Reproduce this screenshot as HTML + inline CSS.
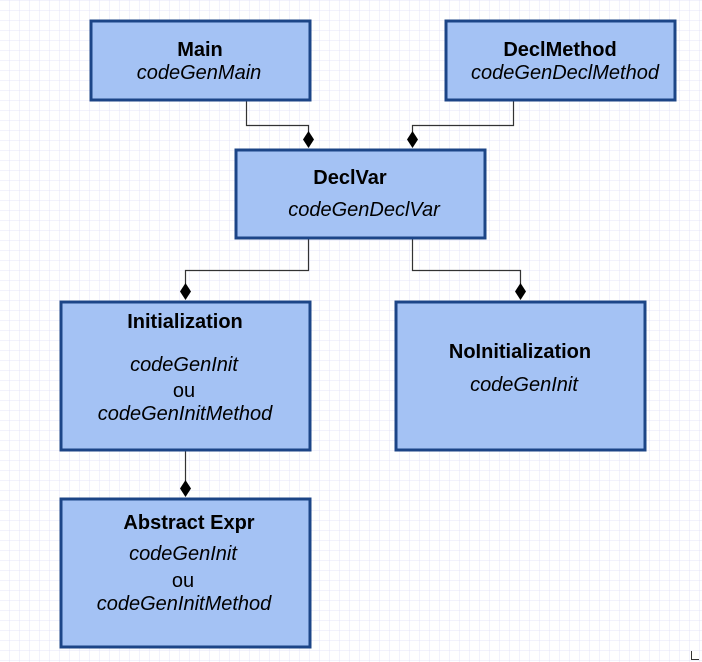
<!DOCTYPE html>
<html><head><style>
html,body{margin:0;padding:0;background:#fff;}
svg{display:block;font-family:"Liberation Sans",sans-serif;}
</style></head><body>
<svg width="702" height="662" xmlns="http://www.w3.org/2000/svg">
<defs>
<pattern id="g" width="10" height="10" patternUnits="userSpaceOnUse" x="0" y="1">
<path d="M10 0V10M0 10H10" stroke="#e4e4f8" stroke-width="1" fill="none"/>
</pattern>
</defs>
<rect width="702" height="662" fill="url(#g)"/>
<g fill="none" stroke="#333" stroke-width="1.2">
<path d="M246.5 101V125.5H308.5V132"/>
<path d="M513.5 101V125.5H412.5V132"/>
<path d="M308.5 239V270.5H185.5V284"/>
<path d="M412.5 239V270.5H520.5V284"/>
<path d="M185.5 451V481"/>
</g>
<g fill="#000">
<path d="M308.5 131L314 139.5L308.5 148L303 139.5Z"/>
<path d="M412.5 131L418 139.5L412.5 148L407 139.5Z"/>
<path d="M185.5 283L191 291.5L185.5 300L180 291.5Z"/>
<path d="M520.5 283L526 291.5L520.5 300L515 291.5Z"/>
<path d="M185.5 480L191 488.5L185.5 497L180 488.5Z"/>
</g>
<g fill="#a4c2f4" stroke="#1c4587" stroke-width="3">
<rect x="91" y="21" width="219" height="79"/>
<rect x="446" y="21" width="229" height="79"/>
<rect x="236" y="150" width="249" height="88"/>
<rect x="61" y="302" width="249" height="148"/>
<rect x="396" y="302" width="249" height="148"/>
<rect x="61" y="499" width="249" height="148"/>
</g>
<g font-size="20" text-anchor="middle" fill="#000">
<text x="200" y="56" font-weight="bold">Main</text>
<text x="199" y="79" font-style="italic">codeGenMain</text>
<text x="560" y="56" font-weight="bold">DeclMethod</text>
<text x="565" y="79" font-style="italic">codeGenDeclMethod</text>
<text x="350" y="184" font-weight="bold">DeclVar</text>
<text x="364" y="216" font-style="italic">codeGenDeclVar</text>
<text x="185" y="328" font-weight="bold">Initialization</text>
<text x="184" y="371" font-style="italic">codeGenInit</text>
<text x="184" y="397">ou</text>
<text x="185" y="420" font-style="italic">codeGenInitMethod</text>
<text x="520" y="358" font-weight="bold">NoInitialization</text>
<text x="524" y="391" font-style="italic">codeGenInit</text>
<text x="189" y="529" font-weight="bold">Abstract Expr</text>
<text x="183" y="560" font-style="italic">codeGenInit</text>
<text x="183" y="587">ou</text>
<text x="184" y="610" font-style="italic">codeGenInitMethod</text>
</g>
<path d="M691.5 660V651M691 659.5H699" stroke="#333" stroke-width="1"/>
</svg>
</body></html>
